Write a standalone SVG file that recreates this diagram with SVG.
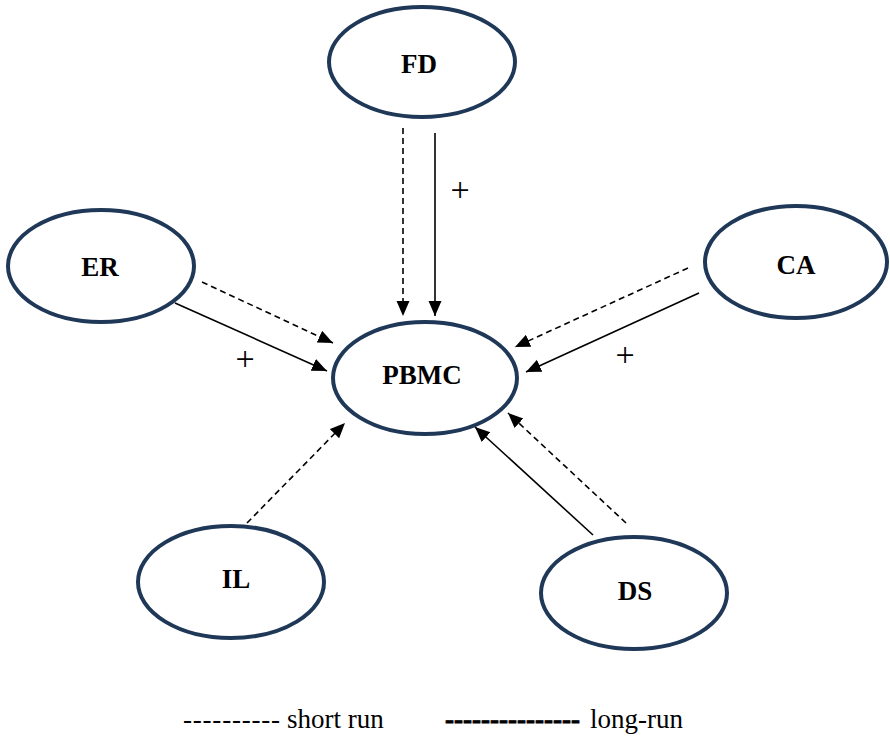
<svg xmlns="http://www.w3.org/2000/svg" width="890" height="743" viewBox="0 0 890 743">
<style>
.node ellipse{fill:#fff;stroke:#1f3858;stroke-width:4}
.lbl{font-family:"Liberation Serif","Times New Roman",serif;font-weight:bold;font-size:27px;fill:#000;text-anchor:middle}
.c{stroke:#000;stroke-width:1.6;fill:none;marker-end:url(#ah)}
.d{stroke-dasharray:6,4}
.t{font-family:"Liberation Serif","Times New Roman",serif;font-size:27px;fill:#000}
.p{font-family:"Liberation Serif","Times New Roman",serif;font-size:34px;fill:#000;text-anchor:middle}
</style>
<defs>
<marker id="ah" markerUnits="userSpaceOnUse" markerWidth="16" markerHeight="14" refX="15" refY="6.5" orient="auto">
<path d="M0,0 L15,6.5 L0,13 Z" fill="#000"/>
</marker>
</defs>
<rect width="890" height="743" fill="#fff"/>
<g id="connectors">
<line class="c d" x1="403" y1="128" x2="403" y2="316"/>
<line class="c" x1="435" y1="133" x2="435" y2="316"/>
<line class="c d" x1="202" y1="282" x2="333" y2="343"/>
<line class="c" x1="175" y1="303" x2="327" y2="371"/>
<line class="c d" x1="688" y1="268" x2="515" y2="347"/>
<line class="c" x1="699" y1="293" x2="526" y2="372"/>
<line class="c d" x1="247" y1="523" x2="345" y2="423"/>
<line class="c" x1="593" y1="535" x2="475" y2="427"/>
<line class="c d" x1="626" y1="523" x2="508" y2="413"/>
<text class="p" x="460" y="201">+</text>
<text class="p" x="245" y="370">+</text>
<text class="p" x="625" y="366">+</text>
</g>
<g id="FD" class="node"><ellipse cx="422" cy="62" rx="93" ry="55"/><text class="lbl" x="419" y="73">FD</text></g>
<g id="ER" class="node"><ellipse cx="101" cy="266" rx="93" ry="56"/><text class="lbl" x="100" y="276">ER</text></g>
<g id="CA" class="node"><ellipse cx="796" cy="262" rx="91" ry="56"/><text class="lbl" x="796" y="274">CA</text></g>
<g id="PBMC" class="node"><ellipse cx="425" cy="378" rx="92" ry="56"/><text class="lbl" x="422" y="384">PBMC</text></g>
<g id="IL" class="node"><ellipse cx="231" cy="582" rx="93" ry="56"/><text class="lbl" x="236" y="588">IL</text></g>
<g id="DS" class="node"><ellipse cx="634" cy="593" rx="93" ry="56"/><text class="lbl" x="635" y="600">DS</text></g>
<g id="legend">
<text class="t" x="183" y="728" letter-spacing="0.8">----------</text>
<text class="t" x="287" y="728">short run</text>
<text class="t" x="445" y="728" font-weight="bold" stroke="#000" stroke-width="0.8">---------------</text>
<text class="t" x="590" y="728">long-run</text>
</g>
</svg>
